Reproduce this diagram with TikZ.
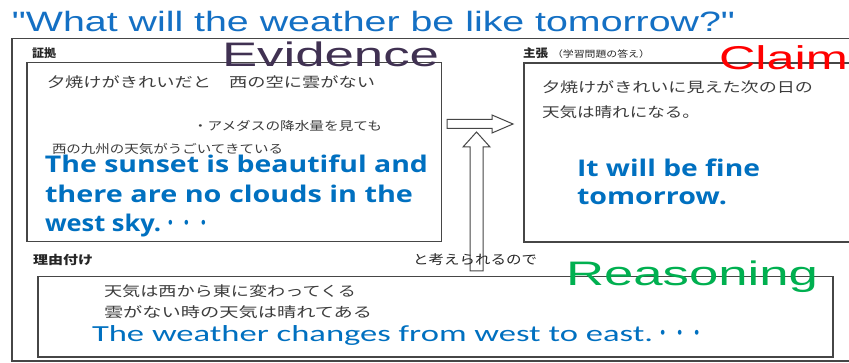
\documentclass[tikz,border=0pt]{standalone}
\usepackage{fontspec}
\usepackage{graphicx}
\setmainfont{Liberation Sans}
\newfontfamily\titlefont{Liberation Sans}[Ligatures=TeXOff]
\newfontfamily\jp{Noto Sans CJK JP}
\newfontfamily\osans{Open Sans}
\newfontfamily\carl{Carlito}
\definecolor{titleblue}{RGB}{20,112,196}
\definecolor{txtblue}{RGB}{0,112,192}
\definecolor{evpurple}{RGB}{64,49,82}
\definecolor{clred}{RGB}{255,0,0}
\definecolor{rsgreen}{RGB}{0,176,80}
\definecolor{framegray}{RGB}{70,70,70}
\definecolor{hwgray}{RGB}{60,60,60}
\newcommand\fitw[2]{\resizebox{#1pt}{\height}{#2}}
\tikzset{
  lbl/.style={inner sep=0pt, outer sep=0pt, anchor=base west},
  hw/.style={inner sep=0pt, outer sep=0pt, anchor=west, text=hwgray, font=\jp\fontsize{14}{14}\selectfont},
  jlabel/.style={inner sep=0pt, outer sep=0pt, anchor=west, text=black!85, font=\jp\fontsize{12}{12}\selectfont},
  boxline/.style={draw=framegray, line width=1.1pt},
  bigword/.style={lbl, font=\fontsize{34}{34}\selectfont},
  bluebold/.style={lbl, text=txtblue, font=\osans\bfseries\fontsize{23}{23}\selectfont},
  blockarrow/.style={draw=framegray, line width=1pt, fill=white, line join=miter},
}
\begin{document}
\begin{tikzpicture}[x=1pt,y=-1pt]
\path[use as bounding box, fill=white] (0,0) rectangle (849,363);

% outer frame and boxes
\draw[boxline] (12,38.5) rectangle (870,361);
\draw[boxline] (27,62.5) rectangle (441.5,241.5);
\draw[boxline] (524,63) rectangle (870,242);
\draw[boxline] (38,276.5) rectangle (833,357);

% block arrows
\draw[blockarrow] (447,119.5) -- (492,119.5) -- (492,115) -- (513,124) -- (492,133) -- (492,128.5) -- (447,128.5) -- cycle;
\draw[blockarrow] (470,271) -- (470,147) -- (463,147) -- (476.5,132) -- (490,147) -- (483,147) -- (483,271) -- cycle;

% title
\node[lbl, text=titleblue, font=\titlefont\fontsize{28}{28}\selectfont] (title) at (12,31.5)
  {\fitw{723}{"What will the weather be like tomorrow?"}};

% headings
\node[bigword, text=evpurple] (evidence) at (222,67) {\fitw{217}{Evidence}};
\node[bigword, text=clred, font=\fontsize{33}{33}\selectfont] (claim) at (719,70) {\fitw{129}{Claim}};
\node[bigword, text=rsgreen] (reasoning) at (566,285.5) {\fitw{252}{Reasoning}};

% small Japanese labels
\node[jlabel, font=\jp\bfseries\fontsize{11.5}{11.5}\selectfont] (lbev) at (32,53) {\fitw{24}{証拠}};
\node[jlabel, font=\jp\bfseries\fontsize{11.5}{11.5}\selectfont] (lbcl) at (523,53) {\fitw{25}{主張}};
\node[jlabel, font=\jp\fontsize{9}{9}\selectfont, anchor=west] (lbcl2) at (552,54) {\fitw{98}{（学習問題の答え）}};
\node[jlabel, font=\jp\bfseries\fontsize{12}{12}\selectfont] (lbrs) at (33,260) {\fitw{60}{理由付け}};
\node[jlabel, font=\jp\fontsize{13}{13}\selectfont] (lbthink) at (413,260) {\fitw{124}{と考えられるので}};

% handwritten notes
\node[hw] (ev1) at (47,82) {\fitw{328}{夕焼けがきれいだと　西の空に雲がない}};
\node[hw, font=\jp\fontsize{12}{12}\selectfont] (ev2) at (193,126) {\fitw{189}{・アメダスの降水量を見ても}};
\node[hw, font=\jp\fontsize{12}{12}\selectfont] (ev3) at (52,149) {\fitw{231}{西の九州の天気がうごいてきている}};
\node[hw] (cl1) at (542,87) {\fitw{271}{夕焼けがきれいに見えた次の日の}};
\node[hw] (cl2) at (542,112) {\fitw{158}{天気は晴れになる。}};
\node[hw] (rs1) at (104,291) {\fitw{252}{天気は西から東に変わってくる}};
\node[hw] (rs2) at (104,312) {\fitw{268}{雲がない時の天気は晴れてある}};

% typed blue texts
\node[bluebold] (evt1) at (45,173) {\fitw{383}{The sunset is beautiful and}};
\node[bluebold] (evt2) at (45,203) {\fitw{368}{there are no clouds in the}};
\node[bluebold] (evt3) at (45,232) {\fitw{116}{west sky.}\hspace{1pt}\fitw{50}{\jp\mdseries ・・・}};
\node[bluebold] (clt1) at (577,177) {\fitw{183}{It will be fine}};
\node[bluebold] (clt2) at (577,205) {\fitw{150}{tomorrow.}};
\node[lbl, text=txtblue, font=\carl\fontsize{23}{23}\selectfont] (rst) at (92,342)
  {\fitw{561}{The weather changes from west to east.}\hspace{1pt}\fitw{52}{\jp ・・・}};
\end{tikzpicture}
\end{document}
